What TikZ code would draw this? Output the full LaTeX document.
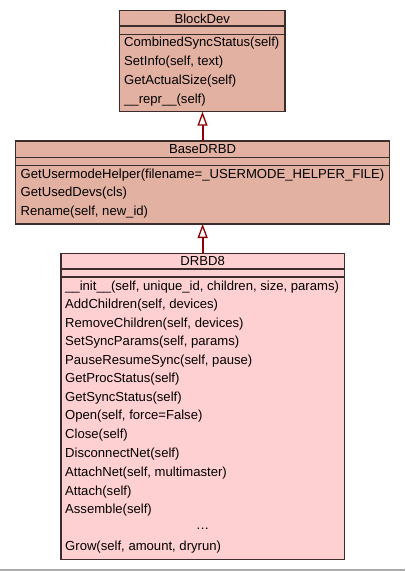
\documentclass[tikz,border=0pt]{standalone}
\usepackage{fontspec}
\setmainfont{Liberation Sans}
\usetikzlibrary{arrows.meta}
\definecolor{basefill}{RGB}{227,177,162}
\definecolor{leaffill}{RGB}{255,208,210}
\definecolor{edgecol}{RGB}{60,45,45}
\definecolor{arrowcol}{RGB}{139,0,0}
\definecolor{rulegray}{RGB}{170,170,170}
\tikzset{
  classbox/.style={draw=edgecol, line width=1.3pt, inner sep=0pt, outer sep=0pt},
  sepline/.style={draw=edgecol, line width=1.1pt},
  title/.style={inner sep=0pt, anchor=center, font=\fontsize{13.1}{15}\selectfont},
  member/.style={inner sep=0pt, anchor=west, font=\fontsize{13.1}{15}\selectfont},
  inherit/.style={draw=arrowcol, line width=2pt, -{Triangle[open, length=14pt, width=10pt, line width=1.3pt, fill=white]}},
}
\begin{document}
\begin{tikzpicture}[x=1pt, y=-1pt]
\useasboundingbox (0,0) rectangle (405,571);
\fill[white] (0,0) rectangle (405,571);
\fill[rulegray] (0,569.3) rectangle (405,571);

% BlockDev
\node[classbox, fill=basefill, minimum width=165.5pt, minimum height=101pt] (blockdev) at (202.25,61.2) {};
\draw[sepline] (119.5,26) -- (285,26);
\draw[sepline] (119.5,34.3) -- (285,34.3);
\node[title] (blockdevT) at (202.25,18.5) {BlockDev};
\node[member] (b1) at (124,43.5) {CombinedSyncStatus(self)};
\node[member] (b2) at (124,62.3) {SetInfo(self, text)};
\node[member] (b3) at (124,81.2) {GetActualSize(self)};
\node[member] (b4) at (124,100) {\_\_repr\_\_(self)};

% BaseDRBD
\node[classbox, fill=basefill, minimum width=373.6pt, minimum height=83pt] (basedrbd) at (202.5,182.5) {};
\draw[sepline] (15.7,157.3) -- (389.3,157.3);
\draw[sepline] (15.7,165.3) -- (389.3,165.3);
\node[title] (basedrbdT) at (202.5,149.2) {BaseDRBD};
\node[member] (d1) at (20.5,175) {GetUsermodeHelper(filename=\_USERMODE\_HELPER\_FILE)};
\node[member] (d2) at (20.5,193.6) {GetUsedDevs(cls)};
\node[member] (d3) at (20.5,212) {Rename(self, new\_id)};

% DRBD8
\node[classbox, fill=leaffill, minimum width=283.3pt, minimum height=306pt] (drbd) at (202.65,406.3) {};
\draw[sepline] (61,269) -- (344.3,269);
\draw[sepline] (61,277) -- (344.3,277);
\node[title] (drbdT) at (202.65,261) {DRBD8};
\node[member] (e1) at (65,287) {\_\_init\_\_(self, unique\_id, children, size, params)};
\node[member] (e2) at (65,305.5) {AddChildren(self, devices)};
\node[member] (e3) at (65,324) {RemoveChildren(self, devices)};
\node[member] (e4) at (65,342.5) {SetSyncParams(self, params)};
\node[member] (e5) at (65,361) {PauseResumeSync(self, pause)};
\node[member] (e6) at (65,379.5) {GetProcStatus(self)};
\node[member] (e7) at (65,398) {GetSyncStatus(self)};
\node[member] (e8) at (65,416.5) {Open(self, force=False)};
\node[member] (e9) at (65,435.5) {Close(self)};
\node[member] (e10) at (65,454.5) {DisconnectNet(self)};
\node[member] (e11) at (65,473.3) {AttachNet(self, multimaster)};
\node[member] (e12) at (65,492) {Attach(self)};
\node[member] (e13) at (65,510) {Assemble(self)};
\node[title] (edots) at (202.65,528.5) {\dots};
\node[member] (e14) at (65,547) {Grow(self, amount, dryrun)};

% inheritance
\draw[inherit] (basedrbd.north) -- (basedrbd.north |- blockdev.south);
\draw[inherit] (drbd.north) -- (drbd.north |- basedrbd.south);
\end{tikzpicture}
\end{document}
